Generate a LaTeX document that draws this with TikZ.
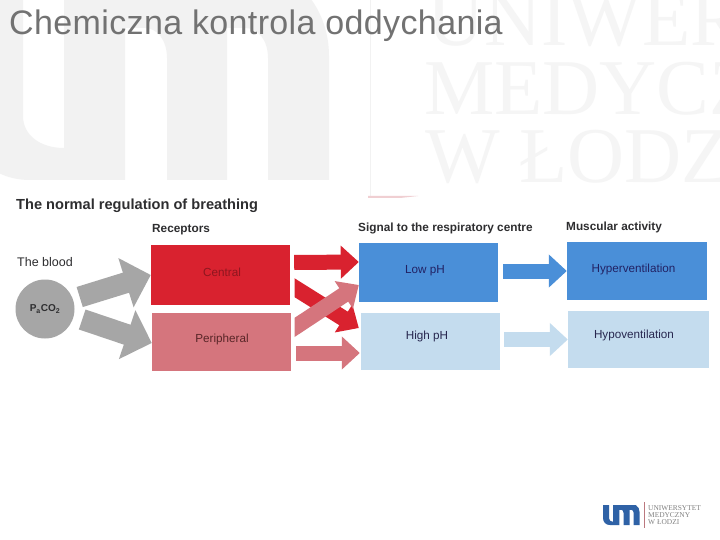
\documentclass[tikz,border=0pt]{standalone}
\usepackage{fontspec}
\setmainfont{Liberation Sans}
\newfontfamily\wmfont{Liberation Serif}
\newfontfamily\titlefont[LetterSpace=1.1]{Liberation Sans}
\usetikzlibrary{arrows.meta,calc}
\definecolor{wm}{HTML}{F2F2F2}
\definecolor{wmtxt}{HTML}{F5F5F5}
\definecolor{titlegrey}{HTML}{727272}
\definecolor{ink}{HTML}{2E2E30}
\definecolor{redstrong}{HTML}{D9222F}
\definecolor{redsoft}{HTML}{D5757D}
\definecolor{bluestrong}{HTML}{4A8FD8}
\definecolor{bluesoft}{HTML}{C4DCEE}
\definecolor{greyblood}{HTML}{A6A6A6}
\definecolor{logoblue}{HTML}{2F62A6}
\newcommand{\umshape}{(-38,-20) -- (23,-20) -- (23,116) .. controls (23,135) and (40,148) .. (64,148) -- (64,-20)
  -- (290,-20) .. controls (315,-5) and (329,25) .. (329,56) -- (329,180) -- (268,180) -- (268,58)
  .. controls (268,40) and (258,28) .. (245,28) -- (227,28) -- (227,180) -- (167,180) -- (167,58)
  .. controls (167,40) and (157,28) .. (145,28) -- (125,28) -- (125,180) -- (30,180)
  .. controls (-10,180) and (-38,150) .. (-38,110) -- cycle}
\tikzset{
  x=1pt,y=-1pt,
  box/.style={inner sep=0pt},
  boxlabel/.style={inner sep=0pt,font=\fontsize{11.7}{14}\selectfont},
  head/.style={inner sep=0pt,anchor=base west,text=ink,font=\fontsize{11.8}{14}\selectfont\bfseries},
  blockarrow/.style={line width=15pt,-{Triangle[length=18pt,width=32pt]}},
  greyarrow/.style={line width=21pt,greyblood,-{Triangle[length=26pt,width=50pt]}},
  wmtext/.style={inner sep=0pt,anchor=base west,text=wmtxt,font=\wmfont\fontsize{79}{79}\selectfont},
}
\begin{document}
\begin{tikzpicture}
\useasboundingbox (0,0) rectangle (720,540);
\fill[white] (0,0) rectangle (720,540);
% watermark
\begin{scope}
\clip (0,0) rectangle (720,540);
\fill[wm] \umshape;
\draw[wm,line width=1pt] (370,0) -- (370,197);
\node[wmtext] (wm1) at (427,46) {UNIWER};
\node[wmtext] (wm2) at (424,115) {MEDYCZ};
\node[wmtext] (wm3) at (425,183) {W ŁODZ};
\end{scope}
\fill[redsoft!35] (368,196) -- (418,196) -- (400,198) -- (368,198) -- cycle;
% title
\node[inner sep=0pt,anchor=base west,text=titlegrey,font=\titlefont\fontsize{34}{38}\selectfont] (title) at (9,35) {Chemiczna kontrola oddychania};
% headings
\node[head,font=\fontsize{14.6}{16}\selectfont\bfseries] (h0) at (16,210) {The normal regulation of breathing};
\node[head] (h1) at (152,233) {Receptors};
\node[head] (h2) at (358,232) {Signal to the respiratory centre};
\node[head] (h3) at (566,230) {Muscular activity};
\node[inner sep=0pt,anchor=base west,text=ink,font=\fontsize{12.5}{14}\selectfont] (h4) at (17,266) {The blood};
% blood
\node[circle,fill=greyblood,minimum size=59pt,inner sep=0pt,text=ink,font=\fontsize{10}{12}\selectfont\bfseries] (blood) at (45,309) {P\textsubscript{a}CO\textsubscript{2}};
% boxes
\node[box,fill=redstrong,minimum width=139pt,minimum height=60pt] (central) at (220.5,275) {};
\node[boxlabel,text=redstrong!65!black] (centraltext) at (222,272.5) {Central};
\node[box,fill=redsoft,minimum width=139pt,minimum height=58pt] (peripheral) at (221.5,342) {};
\node[boxlabel,text=ink!80!red] (peripheraltext) at (222,339) {Peripheral};
\node[box,fill=bluestrong,minimum width=139pt,minimum height=59pt] (low) at (428.5,272.5) {};
\node[boxlabel,text=ink!75!blue] (lowtext) at (425,271) {Low pH};
\node[box,fill=bluesoft,minimum width=139pt,minimum height=57pt] (high) at (430.5,341.5) {};
\node[boxlabel,text=ink!85!blue] (hightext) at (427,336.5) {High pH};
\node[box,fill=bluestrong,minimum width=140pt,minimum height=58pt] (hyper) at (637,271) {};
\node[boxlabel,text=ink!75!blue] (hypertext) at (633.5,269) {Hyperventilation};
\node[box,fill=bluesoft,minimum width=141pt,minimum height=57pt] (hypo) at (638.5,339.5) {};
\node[boxlabel,text=ink!85!blue] (hypotext) at (634,335) {Hypoventilation};
% arrows
\draw[greyarrow] ([shift={(5,-12)}]blood.east) -- (central.west);
\draw[greyarrow] ([shift={(7.5,10.5)}]blood.east) -- ([shift={(0,1)}]peripheral.west);
\draw[blockarrow,redstrong] ([shift={(4,-12.5)}]central.east) -- ([shift={(0,-10.5)}]low.west);
\draw[blockarrow,redsoft] ([shift={(5,11)}]peripheral.east) -- ([shift={(-1,11.5)}]high.west);
\begin{scope}
\clip (294.5,250) rectangle (366,345);
\draw[blockarrow,redstrong,line width=16pt,shorten <=-8pt] ([shift={(4,12.5)}]central.east) -- ([shift={(-2,-13.5)}]high.west);
\draw[blockarrow,redsoft,line width=16pt,shorten <=-8pt] ([shift={(4,-15)}]peripheral.east) -- ([shift={(0,12.5)}]low.west);
\end{scope}
\draw[blockarrow,bluestrong] ([xshift=5pt,yshift=1.5pt]low.east) -- (hyper.west);
\draw[blockarrow,bluesoft] ([xshift=4pt,yshift=2pt]high.east) -- (hypo.west);
% small logo
\begin{scope}[shift={(606.8,507)},scale=0.1]
\fill[logoblue] \umshape;
\end{scope}
\node[inner sep=0pt,minimum width=1pt,minimum height=26pt,fill=redsoft!70!gray] (logorule) at (644,514.5) {};
\node[inner sep=0pt,anchor=west,align=left,text=gray,font=\wmfont\fontsize{7.4}{6.8}\selectfont] (logotext) at (648,515) {UNIWERSYTET\\MEDYCZNY\\W ŁODZI};
\end{tikzpicture}
\end{document}
